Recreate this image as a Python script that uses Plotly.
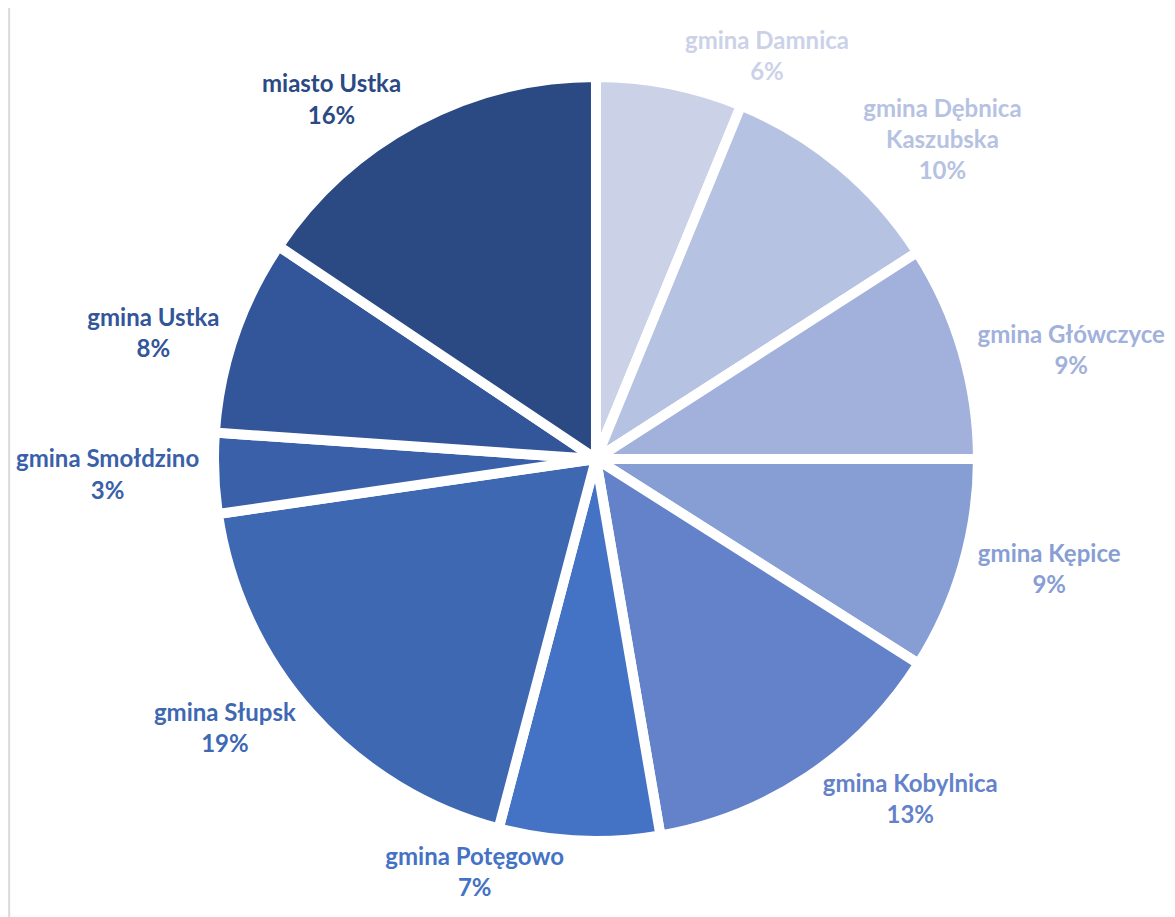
import plotly.graph_objects as go

labels = ["gmina Damnica", "gmina Dębnica<br>Kaszubska", "gmina Główczyce", "gmina Kępice",
          "gmina Kobylnica", "gmina Potęgowo", "gmina Słupsk", "gmina Smołdzino",
          "gmina Ustka", "miasto Ustka"]
values = [6.2, 9.7, 9.1, 9.0, 13.3, 6.8, 18.6, 3.4, 8.3, 15.6]
colors = ["#CBD2E8", "#B6C2E2", "#A1B1DB", "#879ED4", "#6382C9",
          "#4472C4", "#3F68B3", "#3A60A9", "#33559A", "#2B4A84"]

fig = go.Figure(go.Pie(
    labels=labels,
    values=values,
    sort=False,
    direction="clockwise",
    rotation=0,
    automargin=False,
    marker=dict(colors=colors, line=dict(color="white", width=10)),
    textposition="outside",
    texttemplate="<b>%{label}<br>%{percent:.0%}</b>",
    textfont=dict(family="Lato", size=24, color=colors),
    hoverinfo="label+percent",
    showlegend=False,
    domain=dict(x=[0.1753, 0.8255], y=[0.0916, 0.9248]),
))

fig.update_layout(
    width=1175, height=917,
    margin=dict(l=0, r=0, t=0, b=0, autoexpand=False),
    paper_bgcolor="white",
    plot_bgcolor="white",
    shapes=[dict(type="line", xref="paper", yref="paper",
                 x0=0.001, x1=0.001, y0=0, y1=1,
                 line=dict(color="#D9D9D9", width=2))],
)

fig.write_html("out.html")
